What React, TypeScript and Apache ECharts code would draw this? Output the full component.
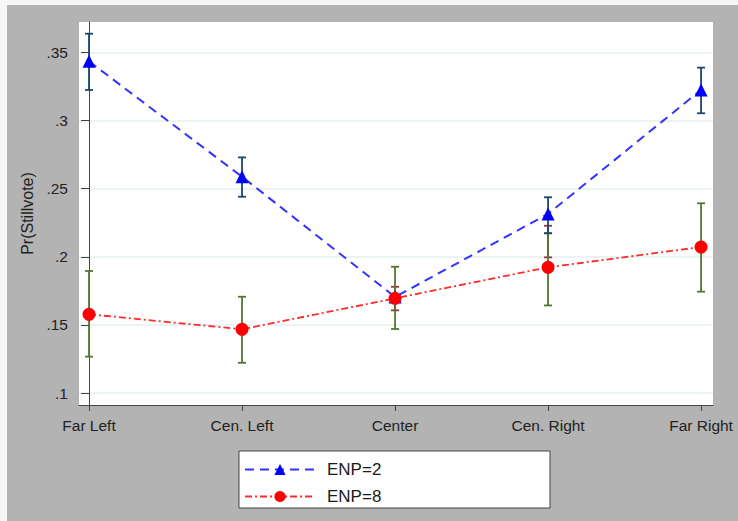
import React, { useEffect, useRef } from 'react';
import * as echarts from 'echarts';

const categories = ['Far Left', 'Cen. Left', 'Center', 'Cen. Right', 'Far Right'];
const yTicks = [0.1, 0.15, 0.2, 0.25, 0.3, 0.35];

const enp2 = [0.3435, 0.2588, 0.1705, 0.2315, 0.3225];
const enp2Low = [0.3225, 0.2441, null, 0.2173, 0.3054];
const enp2High = [0.3638, 0.273, null, 0.2437, 0.3389];

const enp8 = [0.1578, 0.1468, 0.1695, 0.1923, 0.2072];
const enp8Low = [0.1267, 0.1222, 0.147, 0.1643, 0.1744];
const enp8High = [0.1896, 0.1707, 0.1927, 0.2173, 0.2393];

const extraLow = [null, null, 0.1607, 0.1996, null];
const extraHigh = [null, null, 0.178, 0.2228, null];

const FONT = '"Liberation Sans", Arial, Helvetica, sans-serif';

function ciData(lo: (number | null)[], hi: (number | null)[]) {
  const out: number[][] = [];
  lo.forEach((l, i) => {
    const h = hi[i];
    if (l != null && h != null) out.push([i, l, h]);
  });
  return out;
}

function ciSeries(name: string, lo: (number | null)[], hi: (number | null)[], color: string, z: number) {
  return {
    type: 'custom',
    name,
    z,
    silent: true,
    data: ciData(lo, hi),
    encode: { x: 0, y: [1, 2] },
    renderItem: (params: any, api: any) => {
      const x = api.value(0);
      const top = api.coord([x, api.value(2)]);
      const bot = api.coord([x, api.value(1)]);
      const hw = 4;
      const st = { stroke: color, lineWidth: 1.8 };
      return {
        type: 'group',
        children: [
          { type: 'line', shape: { x1: top[0], y1: top[1], x2: bot[0], y2: bot[1] }, style: st },
          { type: 'line', shape: { x1: top[0] - hw, y1: top[1], x2: top[0] + hw, y2: top[1] }, style: st },
          { type: 'line', shape: { x1: bot[0] - hw, y1: bot[1], x2: bot[0] + hw, y2: bot[1] }, style: st },
        ],
      };
    },
  };
}

export default function App() {
  const ref = useRef<HTMLDivElement>(null);
  useEffect(() => {
    if (!ref.current) return;
    const chart = echarts.init(ref.current, undefined, { renderer: 'svg' });
    chart.setOption({
      animation: false,
      backgroundColor: '#f4f6f7',
      textStyle: { fontFamily: FONT },
      graphic: [
        { type: 'rect', z: -10, shape: { x: 7, y: 5, width: 731, height: 516 }, style: { fill: '#b3b3b3' } },
        { type: 'rect', z: 1, shape: { x: 239, y: 451, width: 311, height: 57 }, style: { fill: '#ffffff', stroke: '#444', lineWidth: 1 } },
      ],
      grid: {
        left: 79,
        right: 25,
        top: 22,
        bottom: 116,
        show: true,
        backgroundColor: '#ffffff',
        borderWidth: 0,
      },
      xAxis: {
        type: 'value',
        min: -0.0654,
        max: 4.078,
        axisLine: { show: true, lineStyle: { color: '#444', width: 1 } },
        axisTick: { show: true, customValues: [0, 1, 2, 3, 4], length: 6, lineStyle: { color: '#444' } },
        axisLabel: {
          customValues: [0, 1, 2, 3, 4],
          formatter: (v: number) => categories[Math.round(v)] ?? '',
          fontSize: 15.5,
          color: '#222',
          margin: 12,
          fontFamily: FONT,
        },
        splitLine: { show: false },
      },
      yAxis: {
        type: 'value',
        min: 0.0912,
        max: 0.3724,
        name: 'Pr(Stillvote)',
        nameLocation: 'middle',
        nameGap: 44,
        nameTextStyle: { fontSize: 16, color: '#222', fontFamily: FONT },
        axisLine: { show: true, lineStyle: { color: '#444', width: 1 } },
        axisTick: { show: true, customValues: yTicks, length: 8, lineStyle: { color: '#444' } },
        axisLabel: {
          customValues: yTicks,
          formatter: (v: number) => {
            const s = String(Math.round(v * 100) / 100);
            return s.replace(/^0/, '');
          },
          fontSize: 15.5,
          color: '#222',
          margin: 11,
          fontFamily: FONT,
        },
        splitLine: { show: true, lineStyle: { color: '#e6eff1', width: 1.5 } },
      },
      legend: {
        data: ['ENP=2', 'ENP=8'],
        orient: 'vertical',
        left: 244,
        top: 461,
        padding: 0,
        itemWidth: 70,
        itemHeight: 14,
        itemGap: 10,
        z: 5,
        textStyle: { fontSize: 17, color: '#1a1a1a', fontFamily: FONT, padding: [0, 0, 0, 7] },
      },
      series: [
        ciSeries('extraCI', extraLow, extraHigh, '#90353b', 2),
        ciSeries('enp8CI', enp8Low, enp8High, '#55752f', 3),
        ciSeries('enp2CI', enp2Low, enp2High, '#1a476f', 4),
        {
          type: 'line',
          name: 'ENP=2',
          z: 5,
          data: enp2.map((v, i) => [i, v]),
          symbol: 'triangle',
          symbolSize: 13,
          itemStyle: { color: '#0000ff' },
          lineStyle: { color: '#3333ff', width: 2, type: [9, 6] },
        },
        {
          type: 'line',
          name: 'ENP=8',
          z: 6,
          data: enp8.map((v, i) => [i, v]),
          symbol: 'circle',
          symbolSize: 13,
          itemStyle: { color: '#ff0000' },
          lineStyle: { color: '#ff2a2a', width: 1.8, type: [7, 3, 2, 3] },
        },
      ],
    });
    return () => chart.dispose();
  }, []);
  return (
    <div
      ref={ref}
      style={{ position: 'fixed', left: 0, top: 0, width: 738, height: 521 }}
    />
  );
}
